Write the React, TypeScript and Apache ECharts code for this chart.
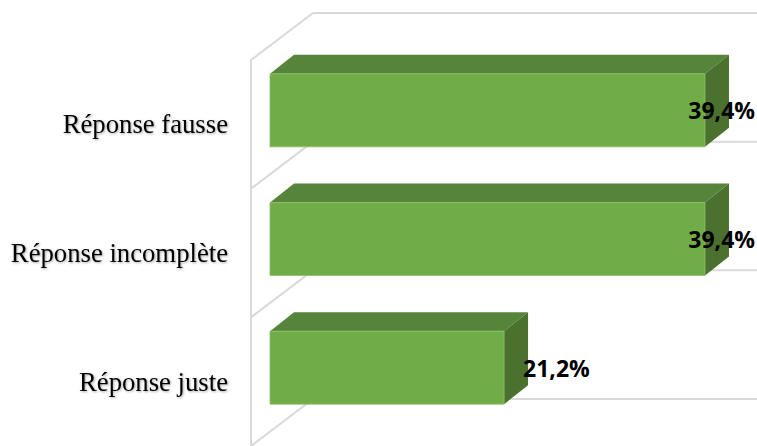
import React, { useEffect, useRef } from "react";
import * as echarts from "echarts";

const categories = ["Réponse juste", "Réponse incomplète", "Réponse fausse"];
const values = [21.2, 39.4, 39.4];
const valueLabels = ["21,2%", "39,4%", "39,4%"];

const FRONT_C = "#70ad47";
const TOP_C = "#56843a";
const SIDE_C = "#4a712e";
const GRID_C = "#d9d9d9";

// depth geometry (pixels)
const BAR_OFF = [19, -14];
const BAR_DEPTH = [24, -19];
const WALL_DEPTH = [62, -47];
const BAR_H = 73;

let measureCtx: CanvasRenderingContext2D | null = null;
function textWidth(t: string, font: string) {
  if (!measureCtx) measureCtx = document.createElement("canvas").getContext("2d");
  if (!measureCtx) return t.length * 13;
  measureCtx.font = font;
  return measureCtx.measureText(t).width;
}

export default function App() {
  const ref = useRef<HTMLDivElement>(null);
  useEffect(() => {
    if (!ref.current) return;
    const chart = echarts.init(ref.current, null, { renderer: "svg" });
    const labelFont = "bold 23px 'Open Sans'";
    chart.setOption({
      animation: false,
      backgroundColor: "#ffffff",
      grid: { left: 251, top: 60, width: 441.6, height: 391.2, containLabel: false },
      xAxis: { type: "value", min: 0, max: 40, show: false },
      yAxis: {
        type: "category",
        data: categories,
        axisLine: { show: true, lineStyle: { color: GRID_C, width: 2 } },
        axisTick: { show: false },
        splitLine: { show: false },
        axisLabel: {
          margin: 23,
          color: "#000000",
          fontFamily: "Liberation Serif",
          fontSize: 26.7,
          textShadowColor: "rgba(0,0,0,0.35)",
          textShadowBlur: 2,
          textShadowOffsetX: 1,
          textShadowOffsetY: 1,
        },
      },
      series: [
        {
          type: "custom",
          name: "walls",
          z: 1,
          silent: true,
          data: categories.map((_, i) => [0, i]),
          encode: { x: 0, y: 1 },
          renderItem: (params: any, api: any) => {
            const i = api.value(1);
            const c = api.coord([0, i]);
            const band = api.size([0, 1])[1];
            const W = api.getWidth();
            const bounds = [c[1] - band / 2];
            if (i === 0) bounds.push(c[1] + band / 2);
            const children: any[] = [];
            bounds.forEach((yb) => {
              const bx = c[0] + WALL_DEPTH[0];
              const by = yb + WALL_DEPTH[1];
              children.push({
                type: "line",
                shape: { x1: c[0], y1: yb, x2: bx, y2: by },
                style: { stroke: GRID_C, lineWidth: 2 },
              });
              children.push({
                type: "line",
                shape: { x1: bx, y1: by, x2: W + 5, y2: by },
                style: { stroke: GRID_C, lineWidth: 2 },
              });
            });
            return { type: "group", children };
          },
        },
        {
          type: "custom",
          name: "bars",
          z: 5,
          data: values.map((v, i) => [v, i]),
          encode: { x: 0, y: 1 },
          renderItem: (params: any, api: any) => {
            const v = api.value(0);
            const i = api.value(1);
            const p0 = api.coord([0, i]);
            const p1 = api.coord([v, i]);
            const W = api.getWidth();
            const x0 = p0[0] + BAR_OFF[0];
            const x1 = p1[0] + BAR_OFF[0];
            const yc = p0[1] + BAR_OFF[1];
            const top = yc - BAR_H / 2;
            const bot = yc + BAR_H / 2;
            const dx = BAR_DEPTH[0];
            const dy = BAR_DEPTH[1];
            const txt = valueLabels[i];
            const tw = textWidth(txt, labelFont);
            let lx = x1 + 19;
            if (lx + tw > W - 2) lx = W - 2 - tw;
            return {
              type: "group",
              children: [
                {
                  type: "polygon",
                  shape: { points: [[x0, top], [x1, top], [x1 + dx, top + dy], [x0 + dx, top + dy]] },
                  style: { fill: TOP_C },
                },
                {
                  type: "polygon",
                  shape: { points: [[x1, top], [x1 + dx, top + dy], [x1 + dx, bot + dy], [x1, bot]] },
                  style: { fill: SIDE_C },
                },
                {
                  type: "rect",
                  shape: { x: x0, y: top, width: x1 - x0, height: BAR_H },
                  style: { fill: FRONT_C, stroke: "#8cbf68", lineWidth: 0.8 },
                },
                {
                  type: "text",
                  x: lx,
                  y: yc,
                  style: {
                    text: txt,
                    fill: "#000000",
                    font: labelFont,
                    textAlign: "left",
                    textVerticalAlign: "middle",
                  },
                },
              ],
            };
          },
        },
      ],
    });
    return () => chart.dispose();
  }, []);
  return (
    <div
      ref={ref}
      style={{ position: "fixed", left: 0, top: 0, width: 757, height: 446, background: "#fff" }}
    />
  );
}
